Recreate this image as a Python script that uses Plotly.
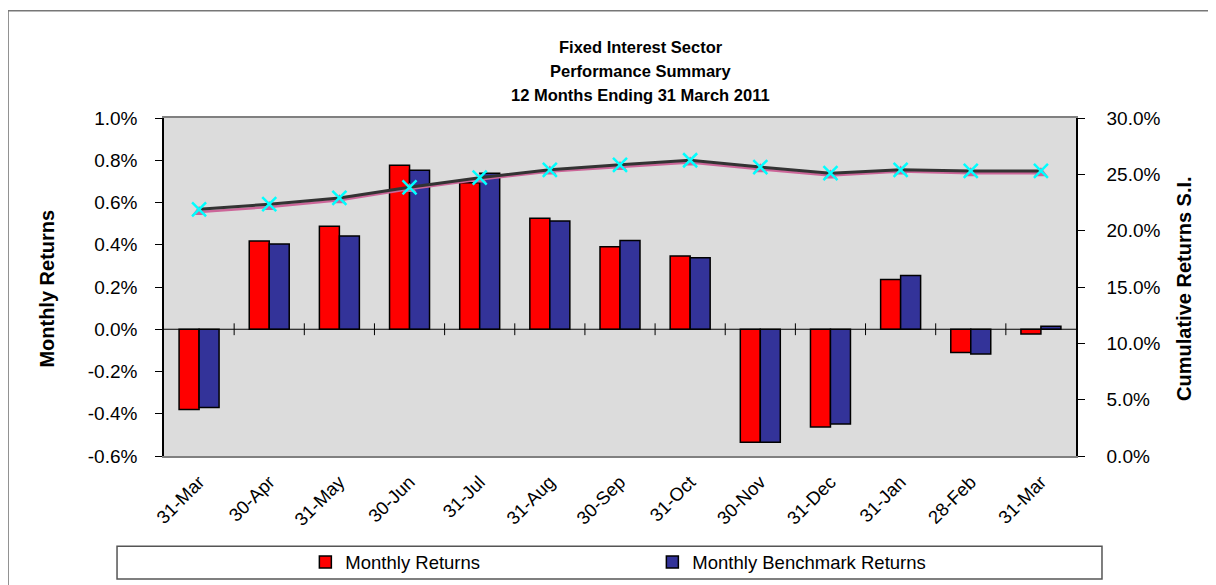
import plotly.graph_objects as go

months = ["31-Mar", "30-Apr", "31-May", "30-Jun", "31-Jul", "31-Aug", "30-Sep",
          "31-Oct", "30-Nov", "31-Dec", "31-Jan", "28-Feb", "31-Mar"]
monthly_returns = [-0.38, 0.418, 0.488, 0.776, 0.693, 0.526, 0.39, 0.347,
                   -0.535, -0.463, 0.235, -0.11, -0.022]
benchmark_returns = [-0.371, 0.404, 0.441, 0.753, 0.738, 0.512, 0.42, 0.338,
                     -0.535, -0.449, 0.254, -0.117, 0.014]
cum_returns = [21.9, 22.35, 22.9, 23.85, 24.7, 25.4, 25.85, 26.25,
               25.65, 25.1, 25.4, 25.3, 25.3]
cum_benchmark = [21.65, 22.1, 22.7, 23.7, 24.55, 25.25, 25.65, 26.05,
                 25.45, 24.9, 25.25, 25.1, 25.1]
left_ticks = [-0.6, -0.4, -0.2, 0.0, 0.2, 0.4, 0.6, 0.8, 1.0]
right_ticks = [0, 5, 10, 15, 20, 25, 30]

xs = list(range(len(months)))
FONT = "Liberation Sans, Arial, sans-serif"
left_text = ["%.1f%%" % v for v in left_ticks]
right_text = ["%.1f%%" % v for v in right_ticks]

fig = go.Figure()
fig.add_trace(go.Bar(x=xs, y=monthly_returns, name="Monthly Returns",
                     marker=dict(color="#FF0000", line=dict(color="#000000", width=1.5))))
fig.add_trace(go.Bar(x=xs, y=benchmark_returns, name="Monthly Benchmark Returns",
                     marker=dict(color="#333399", line=dict(color="#000000", width=1.5))))
fig.add_trace(go.Scatter(x=xs, y=cum_benchmark, yaxis="y2", mode="lines+markers",
                         line=dict(color="#CC6699", width=2.5),
                         marker=dict(symbol="triangle-up", size=12, color="#CC6699"),
                         showlegend=False))
fig.add_trace(go.Scatter(x=xs, y=cum_returns, yaxis="y2", mode="lines+markers",
                         line=dict(color="#333333", width=3),
                         marker=dict(symbol="x-thin", size=14, color="#00FFFF",
                                     line=dict(color="#00FFFF", width=2.5)),
                         showlegend=False))

# category boundary tick marks on the zero line
shapes = []
for i in range(len(months) - 1):
    shapes.append(dict(type="line", xref="x", yref="y", x0=i + 0.5, x1=i + 0.5,
                       y0=-0.028, y1=0.028, line=dict(color="#000000", width=1)))
# zero line
shapes.append(dict(type="line", xref="paper", yref="y", x0=0, x1=1, y0=0, y1=0,
                   line=dict(color="#000000", width=1.2), layer="above"))
# legend box
shapes.append(dict(type="rect", xref="paper", yref="paper", x0=-0.0515, x1=1.0285,
                   y0=-0.364, y1=-0.267, line=dict(color="#555555", width=1.5),
                   fillcolor="white", layer="below"))
# chart border
shapes.append(dict(type="rect", xref="paper", yref="paper", x0=-0.171, x1=1.148,
                   y0=-0.40, y1=1.317, line=dict(color="#777777", width=1.5),
                   layer="below"))

annotations = []
for txt, yv in [("Fixed Interest Sector", 1.211), ("Performance Summary", 1.138),
                ("12 Months Ending 31 March 2011", 1.068)]:
    annotations.append(dict(text="<b>%s</b>" % txt, xref="paper", yref="paper",
                            x=0.523, y=yv, showarrow=False, xanchor="center",
                            yanchor="middle", font=dict(size=16.5, color="black", family=FONT)))
annotations.append(dict(text="<b>Monthly Returns</b>", xref="paper", yref="paper",
                        x=-0.128, y=0.496, showarrow=False, textangle=-90,
                        xanchor="center", yanchor="middle",
                        font=dict(size=20, color="black", family=FONT)))
annotations.append(dict(text="<b>Cumulative Returns S.I.</b>", xref="paper", yref="paper",
                        x=1.119, y=0.496, showarrow=False, textangle=-90,
                        xanchor="center", yanchor="middle",
                        font=dict(size=20, color="black", family=FONT)))

fig.update_layout(
    width=1216, height=585,
    margin=dict(l=156, r=148, t=110, b=134),
    paper_bgcolor="white",
    plot_bgcolor="#DCDCDC",
    font=dict(family=FONT, size=19, color="black"),
    barmode="group", bargap=0.43, bargroupgap=0,
    showlegend=True,
    legend=dict(orientation="h", x=0.155, y=-0.315, xanchor="left", yanchor="middle",
                bgcolor="rgba(0,0,0,0)", borderwidth=0, entrywidth=302,
                font=dict(size=18.5, family=FONT), traceorder="normal"),
    xaxis=dict(tickmode="array", tickvals=xs, ticktext=months, tickangle=-45,
               range=[-0.5, len(months) - 0.5], showgrid=False, zeroline=False,
               showline=True, linecolor="#808080", linewidth=2, mirror=True,
               ticks="", ticklabelstandoff=6, tickfont=dict(size=18.5)),
    yaxis=dict(range=[-0.6, 1.0], tickmode="array", tickvals=left_ticks,
               ticktext=left_text,
               showgrid=False, zeroline=False, showline=True, linecolor="#000000",
               linewidth=1.5, ticks="outside", ticklen=7, tickcolor="#000000",
               ticklabelstandoff=14, tickfont=dict(size=19)),
    yaxis2=dict(range=[0, 30], tickmode="array", tickvals=right_ticks,
                ticktext=right_text,
                overlaying="y", side="right", showgrid=False, zeroline=False,
                showline=True, linecolor="#000000", linewidth=1.5, ticks="outside",
                ticklen=7, tickcolor="#000000", ticklabelstandoff=18,
                tickfont=dict(size=19)),
    shapes=shapes,
    annotations=annotations,
)

fig.write_html("out.html")
